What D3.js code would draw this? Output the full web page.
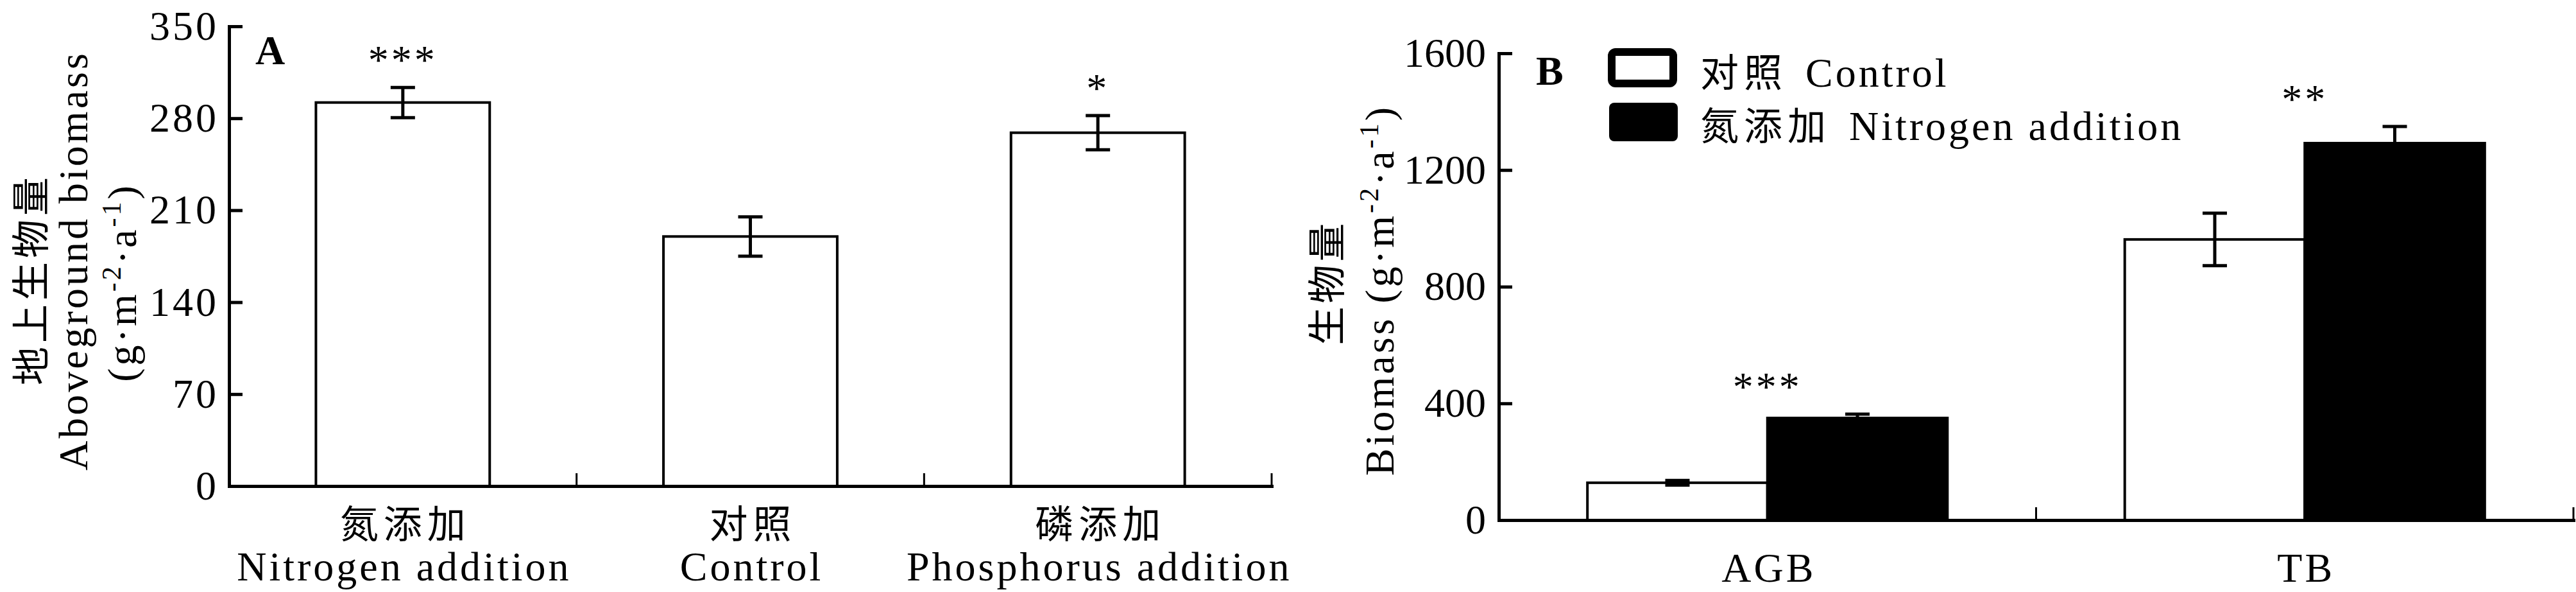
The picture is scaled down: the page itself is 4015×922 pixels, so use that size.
<!DOCTYPE html>
<html><head><meta charset="utf-8">
<script src="https://cdn.jsdelivr.net/npm/d3@7"></script>
<style>
body{margin:0;background:#fff}
svg text{font-family:"Liberation Serif","Times New Roman",serif;fill:#000}
</style>
</head><body>
<svg id="c" width="4015" height="922"></svg>
<script>
// ---------- data ----------
const catsA_zh = ["氮添加", "对照", "磷添加"];
const catsA_en = ["Nitrogen addition", "Control", "Phosphorus addition"];
const valuesA = [292, 190, 269];
const errorsA = [11.5, 15, 13];
const sigA = ["***", "", "*"];
const ticksA = [0, 70, 140, 210, 280, 350];

const groupsB = ["AGB", "TB"];
const seriesB_zh = ["对照", "氮添加"];
const seriesB_en = ["Control", "Nitrogen addition"];
const controlB = [128, 962];
const controlErrB = [8, 90];
const nitrogenB = [350, 1292];
const nitrogenErrB = [13, 57];
const sigB = ["***", "**"];
const ticksB = [0, 400, 800, 1200, 1600];

// ---------- setup ----------
const CJK = "'Noto Sans CJK SC','Noto Sans CJK JP',sans-serif";
const FS = 64, LS = 4, CJKFS = 60, CJKLS = 8;
const svg = d3.select("#c");
svg.append("rect").attr("width", 4015).attr("height", 922).attr("fill", "#fff");

function styleAxis(g, textLS) {
  g.attr("font-size", null).attr("font-family", null);
  g.select(".domain").attr("stroke", "#000").attr("stroke-width", 5).attr("stroke-linecap", "square");
  g.selectAll(".tick line").attr("stroke", "#000").attr("stroke-width", 5);
  g.selectAll(".tick text").style("font-size", FS + "px").style("letter-spacing", textLS + "px");
}
function errorBar(g, cx, v, e, y) {
  const eg = g.append("g").attr("stroke", "#000").attr("stroke-width", 5);
  eg.append("line").attr("x1", cx).attr("x2", cx).attr("y1", y(v - e)).attr("y2", y(v + e));
  [v - e, v + e].forEach(t => eg.append("line").attr("x1", cx - 19).attr("x2", cx + 19).attr("y1", y(t)).attr("y2", y(t)));
}
function stars(g, cx, yTop, s) {
  if (!s) return;
  g.append("text").attr("x", cx).attr("y", yTop - 52 + 31).attr("text-anchor", "middle")
    .style("font-size", FS + "px").style("letter-spacing", LS + "px").text(s);
}
function unitSpans(t) {
  t.append("tspan").text("(g·m");
  t.append("tspan").attr("dy", -24).style("font-size", "42px").text("-2");
  t.append("tspan").attr("dy", 24).text("·a");
  t.append("tspan").attr("dy", -24).style("font-size", "42px").text("-1");
  t.append("tspan").attr("dy", 24).text(")");
}

// ---------- Panel A ----------
const xA = d3.scaleBand().domain(catsA_zh).range([357, 1982]).paddingInner(0.5).paddingOuter(0.25);
const yA = d3.scaleLinear().domain([0, 350]).range([757, 41]);
const gA = svg.append("g");

gA.selectAll("rect.bar").data(catsA_zh).join("rect").attr("class", "bar")
  .attr("x", d => xA(d)).attr("width", xA.bandwidth())
  .attr("y", (d, i) => yA(valuesA[i])).attr("height", (d, i) => yA(0) - yA(valuesA[i]))
  .attr("fill", "#fff").attr("stroke", "#000").attr("stroke-width", 4);
catsA_zh.forEach((c, i) => {
  const cx = xA(c) + xA.bandwidth() / 2;
  errorBar(gA, cx, valuesA[i], errorsA[i], yA);
  stars(gA, cx, yA(valuesA[i] + errorsA[i]), sigA[i]);
});

const axYA = gA.append("g").attr("transform", "translate(357,0)")
  .call(d3.axisLeft(yA).tickValues(ticksA).tickFormat(d3.format("d")).tickSizeInner(-21).tickSizeOuter(0).tickPadding(16));
styleAxis(axYA, LS);
const axXA = gA.append("g").attr("transform", "translate(0,757)")
  .call(d3.axisBottom(xA).tickSize(0).tickFormat(""));
styleAxis(axXA, LS);
catsA_zh.forEach(c => {
  const bx = xA(c) + xA.bandwidth() + xA.step() * xA.paddingInner() / 2;
  axXA.append("line").attr("x1", bx).attr("x2", bx).attr("y1", 0).attr("y2", -20)
    .attr("stroke", "#000").attr("stroke-width", 3);
});
catsA_zh.forEach((c, i) => {
  const cx = xA(c) + xA.bandwidth() / 2;
  gA.append("text").attr("x", cx + CJKLS / 2).attr("y", 838).attr("text-anchor", "middle")
    .style("font-family", CJK).style("font-size", CJKFS + "px").style("letter-spacing", CJKLS + "px").text(c);
  gA.append("text").attr("x", cx + LS / 2).attr("y", 904).attr("text-anchor", "middle")
    .style("font-size", FS + "px").style("letter-spacing", LS + "px").text(catsA_en[i]);
});
gA.append("text").attr("x", 398).attr("y", 100).style("font-size", FS + "px").style("font-weight", "bold").text("A");

// Y titles A
gA.append("text").attr("transform", "translate(70,435) rotate(-90)").attr("text-anchor", "middle")
  .style("font-family", CJK).style("font-size", CJKFS + "px").style("letter-spacing", "6px").text("地上生物量");
gA.append("text").attr("transform", "translate(136,406) rotate(-90)").attr("text-anchor", "middle")
  .style("font-size", FS + "px").style("letter-spacing", LS + "px").text("Aboveground biomass");
unitSpans(gA.append("text").attr("transform", "translate(212,440) rotate(-90)").attr("text-anchor", "middle")
  .style("font-size", FS + "px").style("letter-spacing", LS + "px"));

// ---------- Panel B ----------
const x0 = d3.scaleBand().domain(groupsB).range([2336, 4011]).paddingInner(0.33).paddingOuter(0.165);
const x1 = d3.scaleBand().domain(seriesB_en).range([0, x0.bandwidth()]);
const yB = d3.scaleLinear().domain([0, 1600]).range([810, 83]);
const gB = svg.append("g");
const seriesVals = [controlB, nitrogenB];
const seriesErr = [controlErrB, nitrogenErrB];
const seriesFill = ["#fff", "#000"];

seriesB_en.forEach((s, si) => {
  gB.selectAll("rect.s" + si).data(groupsB).join("rect").attr("class", "s" + si)
    .attr("x", d => x0(d) + x1(s)).attr("width", x1.bandwidth())
    .attr("y", (d, i) => yB(seriesVals[si][i])).attr("height", (d, i) => yB(0) - yB(seriesVals[si][i]))
    .attr("fill", seriesFill[si]).attr("stroke", "#000").attr("stroke-width", 4);
});
seriesB_en.forEach((s, si) => {
  groupsB.forEach((g, i) => {
    errorBar(gB, x0(g) + x1(s) + x1.bandwidth() / 2, seriesVals[si][i], seriesErr[si][i], yB);
  });
});
groupsB.forEach((g, i) => {
  const top = Math.min(yB(controlB[i] + controlErrB[i]), yB(nitrogenB[i] + nitrogenErrB[i]));
  stars(gB, x0(g) + x0.bandwidth() / 2, top, sigB[i]);
});

const axYB = gB.append("g").attr("transform", "translate(2336,0)")
  .call(d3.axisLeft(yB).tickValues(ticksB).tickFormat(d3.format("d")).tickSizeInner(-21).tickSizeOuter(0).tickPadding(20));
styleAxis(axYB, 0);
const axXB = gB.append("g").attr("transform", "translate(0,810)")
  .call(d3.axisBottom(x0).tickSize(0).tickFormat(""));
styleAxis(axXB, LS);
groupsB.forEach(g => {
  const bx = x0(g) + x0.bandwidth() + x0.step() * x0.paddingInner() / 2;
  axXB.append("line").attr("x1", bx).attr("x2", bx).attr("y1", 0).attr("y2", -20)
    .attr("stroke", "#000").attr("stroke-width", 3);
});
groupsB.forEach(g => {
  gB.append("text").attr("x", x0(g) + x0.bandwidth() / 2 + LS / 2).attr("y", 906).attr("text-anchor", "middle")
    .style("font-size", FS + "px").style("letter-spacing", LS + "px").text(g);
});
gB.append("text").attr("x", 2394).attr("y", 132).style("font-size", FS + "px").style("font-weight", "bold").text("B");

// Y titles B
gB.append("text").attr("transform", "translate(2090,440) rotate(-90)").attr("text-anchor", "middle")
  .style("font-family", CJK).style("font-size", CJKFS + "px").style("letter-spacing", "5px").text("生物量");
const tB = gB.append("text").attr("transform", "translate(2172,452) rotate(-90)").attr("text-anchor", "middle")
  .style("font-size", FS + "px").style("letter-spacing", LS + "px");
tB.append("tspan").text("Biomass ");
unitSpans(tB);

// Legend
const legBase = [135, 218];
gB.append("rect").attr("x", 2512).attr("y", 81).attr("width", 96).attr("height", 49).attr("rx", 6)
  .attr("fill", "#fff").attr("stroke", "#000").attr("stroke-width", 12);
gB.append("rect").attr("x", 2508).attr("y", 160).attr("width", 107).attr("height", 60).attr("rx", 8)
  .attr("fill", "#000");
seriesB_zh.forEach((z, i) => {
  const t = gB.append("text").attr("x", 2650).attr("y", legBase[i]);
  const zs = t.append("tspan").style("font-family", CJK).style("font-size", CJKFS + "px")
    .style("letter-spacing", CJKLS + "px").text(z);
  const w = zs.node().getComputedTextLength();
  t.append("tspan").attr("x", 2650 + w + 28).style("font-size", FS + "px").style("letter-spacing", LS + "px")
    .text(seriesB_en[i]);
});
</script>
</body></html>
